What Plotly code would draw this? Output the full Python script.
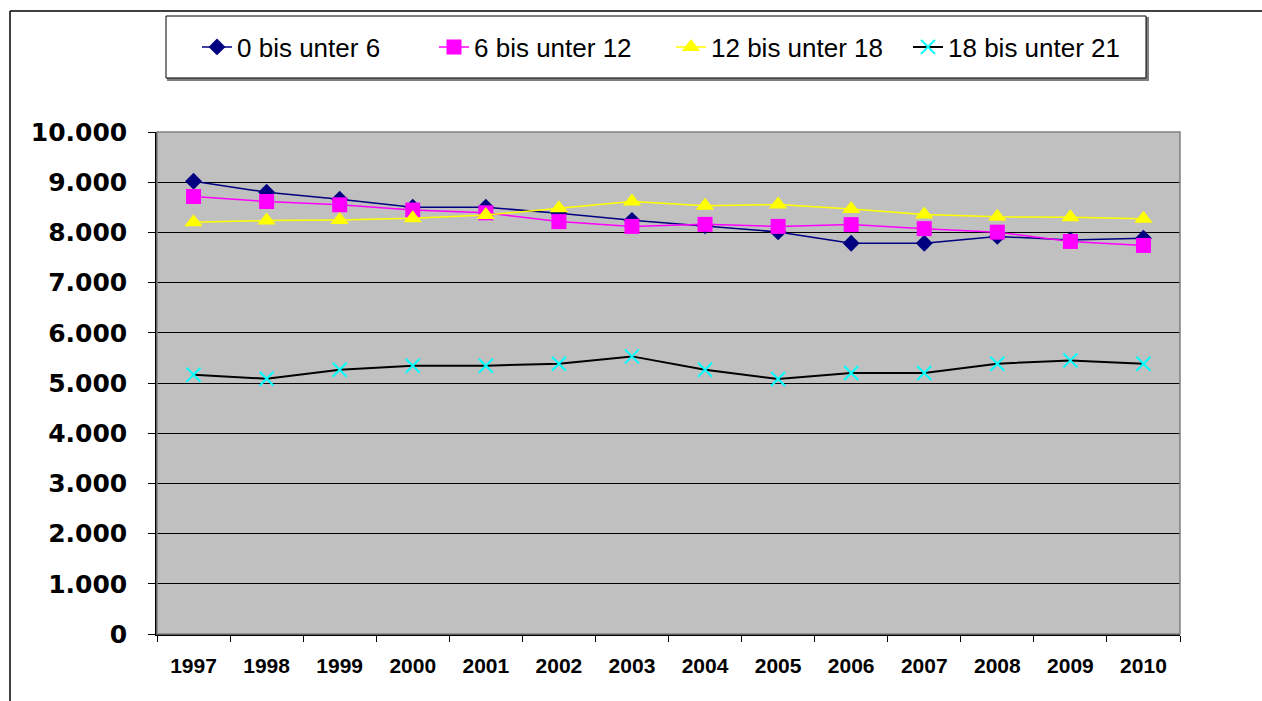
import plotly.graph_objects as go

years = ["1997", "1998", "1999", "2000", "2001", "2002", "2003",
         "2004", "2005", "2006", "2007", "2008", "2009", "2010"]
s_0_6 = [9020, 8800, 8660, 8500, 8500, 8380, 8240, 8130, 8010, 7785, 7785, 7920, 7850, 7885]
s_6_12 = [8715, 8615, 8550, 8445, 8390, 8215, 8120, 8160, 8120, 8155, 8075, 8005, 7820, 7740]
s_12_18 = [8200, 8235, 8245, 8280, 8345, 8480, 8615, 8530, 8555, 8465, 8355, 8310, 8300, 8270]
s_18_21 = [5165, 5085, 5265, 5345, 5345, 5385, 5530, 5265, 5080, 5200, 5200, 5385, 5450, 5385]
names = ["0 bis unter 6", "6 bis unter 12", "12 bis unter 18", "18 bis unter 21"]

FONT = "Liberation Sans, Arial, sans-serif"
YFONT = "DejaVu Sans, sans-serif"
fig = go.Figure()
fig.add_trace(go.Scatter(x=years, y=s_0_6, name=names[0], mode="lines+markers",
                         line=dict(color="#000080", width=1.5),
                         marker=dict(symbol="diamond", size=13, color="#000080")))
fig.add_trace(go.Scatter(x=years, y=s_6_12, name=names[1], mode="lines+markers",
                         line=dict(color="#FF00FF", width=1.5),
                         marker=dict(symbol="square", size=15, color="#FF00FF")))
fig.add_trace(go.Scatter(x=years, y=s_12_18, name=names[2], mode="lines+markers",
                         line=dict(color="#FFFF00", width=1.5),
                         marker=dict(symbol="triangle-up", size=16, color="#FFFF00")))
fig.add_trace(go.Scatter(x=years, y=s_18_21, name=names[3], mode="lines+markers",
                         line=dict(color="#000000", width=2),
                         marker=dict(symbol="x-thin", size=14, color="#00FFFF",
                                     line=dict(color="#00FFFF", width=2))))

L, R, T, B = 157, 1180, 132, 634
W, H = R - L, B - T
def px(x):
    return (x - L) / W
def py(y):
    return (B - y) / H

shapes = [
    dict(type="line", xref="paper", yref="paper", x0=px(10), x1=px(10), y0=py(11), y1=py(705),
         line=dict(color="#000000", width=1.5)),
    dict(type="line", xref="paper", yref="paper", x0=px(10), x1=px(1265), y0=py(11), y1=py(11),
         line=dict(color="#000000", width=1.5)),
    dict(type="rect", xref="paper", yref="paper", x0=px(168), x1=px(1148), y0=py(80), y1=py(18),
         line=dict(color="#808080", width=2), fillcolor="#808080", layer="below"),
    dict(type="rect", xref="paper", yref="paper", x0=px(166), x1=px(1146), y0=py(78), y1=py(16),
         line=dict(color="#000000", width=1), fillcolor="#FFFFFF", layer="below"),
    dict(type="rect", xref="paper", yref="paper", x0=0, x1=1, y0=0, y1=1,
         line=dict(color="#808080", width=1.5)),
]

fig.update_layout(
    width=1262, height=701,
    margin=dict(l=L, r=1262 - R, t=T, b=701 - B, autoexpand=False),
    paper_bgcolor="#FFFFFF", plot_bgcolor="#C0C0C0",
    separators=",.",
    showlegend=True,
    legend=dict(orientation="h", xref="paper", yref="paper",
                x=px(197), y=py(47), xanchor="left", yanchor="middle",
                bgcolor="rgba(0,0,0,0)", borderwidth=0,
                entrywidth=192,
                font=dict(family=FONT, size=26, color="#000000")),
    shapes=shapes,
    xaxis=dict(type="category", showgrid=False, ticks="outside", tickson="boundaries",
               ticklen=6, tickcolor="#000000", showline=True, linecolor="#000000", linewidth=1.5,
               ticklabelstandoff=12,
               tickfont=dict(family=FONT, size=21, color="#000000", weight="bold"),
               range=[-0.5, 13.5]),
    yaxis=dict(range=[0, 10000], dtick=1000, tickformat=",d", showgrid=True,
               gridcolor="#000000", gridwidth=1, ticks="outside", ticklen=7,
               tickcolor="#000000", showline=True, linecolor="#000000", linewidth=1.5,
               zeroline=False, ticklabelstandoff=16,
               tickfont=dict(family=YFONT, size=25, color="#000000", weight="bold")),
)

fig.write_html("out.html", config={"displayModeBar": False},
               post_script="document.body.style.margin='0';document.body.style.overflow='hidden';")
